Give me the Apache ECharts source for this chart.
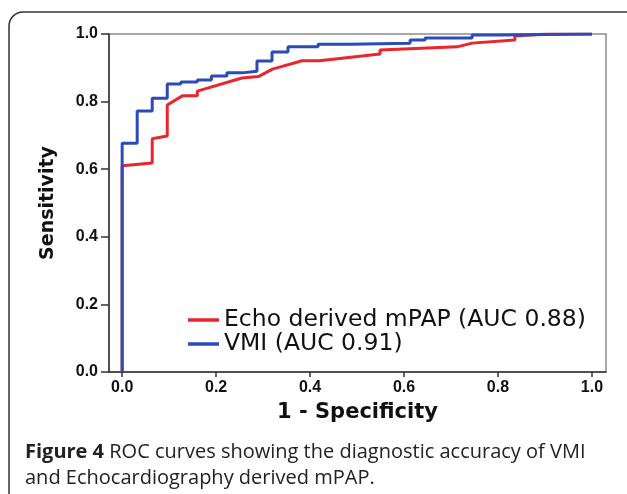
<!DOCTYPE html>
<html>
<head>
<meta charset="utf-8">
<style>
  html, body { margin: 0; padding: 0; background: #fff; }
  #chart { width: 627px; height: 494px; }
</style>
<script src="https://cdn.jsdelivr.net/npm/echarts@6/dist/echarts.min.js"></script>
</head>
<body>
<div id="chart"></div>
<script>
// ---- Data ----
const xTickValues = [0, 0.2, 0.4, 0.6, 0.8, 1.0];
const seriesNames = ['Echo derived mPAP (AUC 0.88)', 'VMI (AUC 0.91)'];
// [1 - Specificity, Sensitivity]
const echoROC = [
  [0, 0], [0, 0.61], [0.064, 0.618], [0.064, 0.69], [0.096, 0.698], [0.096, 0.79],
  [0.128, 0.817], [0.16, 0.817], [0.16, 0.831], [0.255, 0.87], [0.255, 0.874],
  [0.29, 0.874], [0.32, 0.896], [0.383, 0.921], [0.42, 0.921], [0.549, 0.941],
  [0.549, 0.953], [0.713, 0.962], [0.713, 0.967], [0.745, 0.973], [0.836, 0.982],
  [0.836, 0.994], [0.904, 1.0], [1.0, 1.0]
];
const vmiROC = [
  [0, 0], [0, 0.677], [0.032, 0.677], [0.032, 0.772], [0.064, 0.772], [0.064, 0.81],
  [0.096, 0.81], [0.096, 0.852], [0.125, 0.852], [0.125, 0.858], [0.16, 0.858],
  [0.16, 0.864], [0.19, 0.864], [0.19, 0.876], [0.223, 0.876], [0.223, 0.885],
  [0.255, 0.885], [0.255, 0.89], [0.287, 0.89], [0.287, 0.92], [0.319, 0.92],
  [0.319, 0.947], [0.353, 0.947], [0.353, 0.962], [0.417, 0.962], [0.417, 0.97],
  [0.485, 0.97], [0.485, 0.973], [0.613, 0.973], [0.613, 0.982], [0.645, 0.982],
  [0.645, 0.988], [0.745, 0.988], [0.745, 0.997], [0.81, 0.997], [0.81, 1.0],
  [1.0, 1.0]
];
const xAxisName = '1 - Specificity';
const yAxisName = 'Sensitivity';
const captionBold = 'Figure 4';
const captionLine1 = ' ROC curves showing the diagnostic accuracy of VMI';
const captionLine2 = 'and Echocardiography derived mPAP.';

// ---- Chart ----
const chart = echarts.init(document.getElementById('chart'), null, { renderer: 'canvas' });
const tickFont = { fontFamily: 'Liberation Sans', fontWeight: 'bold', fontSize: 16, color: '#111' };

chart.setOption({
  animation: false,
  backgroundColor: '#fff',
  grid: {
    left: 109, right: 21, top: 34, bottom: 122,
    show: true, borderColor: '#8c8c8c', borderWidth: 1.5, backgroundColor: 'transparent'
  },
  legend: {
    data: seriesNames,
    orient: 'vertical',
    left: 183, top: 303,
    icon: 'rect',
    itemWidth: 31, itemHeight: 3.5, itemGap: 0,
    textStyle: { fontFamily: 'DejaVu Sans', fontSize: 23.5, lineHeight: 23, color: '#111' }
  },
  xAxis: {
    type: 'value',
    min: -0.028, max: 1.03,
    name: xAxisName,
    nameLocation: 'middle',
    nameGap: 30,
    nameTextStyle: { fontFamily: 'DejaVu Sans', fontWeight: 'bold', fontSize: 21, color: '#111' },
    axisLine: { show: true, onZero: false, lineStyle: { color: '#333', width: 1.5 } },
    axisTick: { show: true, customValues: xTickValues, length: 5, lineStyle: { color: '#333', width: 1.5 } },
    axisLabel: Object.assign({ customValues: xTickValues, margin: 8, formatter: v => v.toFixed(1) }, tickFont),
    splitLine: { show: false }
  },
  yAxis: {
    type: 'value',
    min: 0, max: 1, interval: 0.2,
    name: yAxisName,
    nameLocation: 'middle',
    nameRotate: 90,
    nameGap: 51,
    nameTextStyle: { fontFamily: 'DejaVu Sans', fontWeight: 'bold', fontSize: 19, color: '#111' },
    axisLine: { show: true, onZero: false, lineStyle: { color: '#333', width: 1.5 } },
    axisTick: { show: true, length: 8, lineStyle: { color: '#333', width: 1.5 } },
    axisLabel: Object.assign({ margin: 11, formatter: v => v.toFixed(1) }, tickFont),
    splitLine: { show: false }
  },
  series: [
    {
      name: seriesNames[0], type: 'line', data: echoROC,
      showSymbol: false, symbol: 'none', color: '#e8262b',
      lineStyle: { width: 3, color: '#e8262b' }, z: 2
    },
    {
      name: seriesNames[1], type: 'line', data: vmiROC,
      showSymbol: false, symbol: 'none', color: '#2b4bb8',
      lineStyle: { width: 3, color: '#2b4bb8' }, z: 3
    }
  ],
  graphic: [
    {
      type: 'rect', silent: true,
      shape: { x: 9, y: 12, width: 640, height: 520, r: 14 },
      style: { fill: 'none', stroke: '#333', lineWidth: 1.5 }
    },
    {
      type: 'text', left: 25, top: 439, silent: true,
      style: {
        text: '{b|' + captionBold + '}' + captionLine1 + '\n' + captionLine2,
        fontFamily: 'Open Sans', fontSize: 20, lineHeight: 26, fill: '#222',
        rich: { b: { fontFamily: 'Open Sans', fontWeight: 'bold', fontSize: 20, lineHeight: 26, fill: '#222' } }
      }
    }
  ]
});
</script>
</body>
</html>
